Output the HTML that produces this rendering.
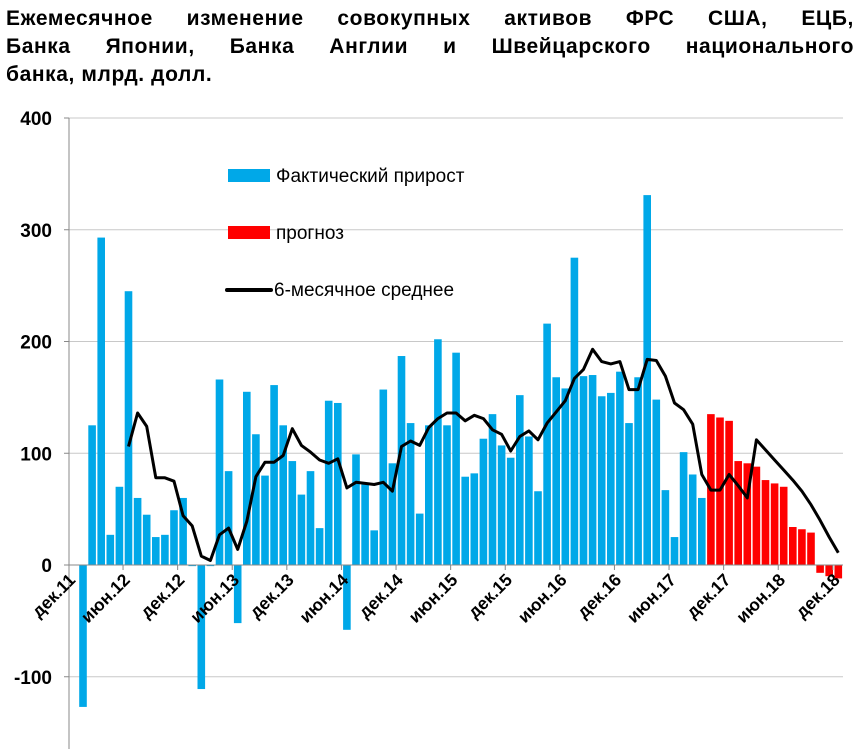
<!DOCTYPE html>
<html><head><meta charset="utf-8">
<style>
html,body{margin:0;padding:0;background:#fff;}
body{width:865px;height:749px;overflow:hidden;position:relative;font-family:"Liberation Sans","DejaVu Sans",sans-serif;}
.t{position:absolute;left:6px;width:848px;font-weight:bold;font-size:21px;letter-spacing:0.6px;color:#000;text-align:justify;text-align-last:justify;white-space:nowrap;line-height:28px;}
</style></head><body>
<div class="t" style="top:5px;">Ежемесячное изменение совокупных активов ФРС США, ЕЦБ,</div>
<div class="t" style="top:33px;">Банка Японии, Банка Англии и Швейцарского национального</div>
<div class="t" style="top:61px;text-align-last:left;width:auto;">банка, млрд. долл.</div>
<svg id="chart" width="865" height="749" style="position:absolute;left:0;top:0;" xmlns="http://www.w3.org/2000/svg"></svg>
<script>
const actual=[-127,125,293,27,70,245,60,45,25,27,49,60,-1,-111,-1,166,84,-52,155,117,80,161,125,93,63,84,33,147,145,-58,99,72,31,157,91,187,127,46,125,202,125,190,79,82,113,135,107,96,152,115,66,216,168,158,275,169,170,151,154,173,127,168,331,148,67,25,101,81,60];
const forecast=[135,132,129,93,91,88,76,73,70,34,32,29,-7,-10,-12];
const avg=[null,null,null,null,null,106,136,124,78,78,75,44,35,8,4,27,33,14,39,79,92,92,98,122,107,101,94,91,95,69,74,73,72,74,66,106,111,107,123,131,136,136,129,134,131,121,117,102,115,120,112,127,137,147,167,175,193,182,180,182,157,157,184,183,169,145,139,126,81,67,67,81,71,60,112,103,94,85,76,66,54,40,25,11];
const yTicks=[400,300,200,100,0,-100];
const xLabels=["дек.11","июн.12","дек.12","июн.13","дек.13","июн.14","дек.14","июн.15","дек.15","июн.16","дек.16","июн.17","дек.17","июн.18","дек.18"];

const NS="http://www.w3.org/2000/svg";
const svg=document.getElementById('chart');
const y0=565, pxPer=1.1175;
function yS(v){return y0-v*pxPer;}
const x0=83, step=9.1;
function xS(i){return x0+i*step;}
function mk(tag,attrs){const e=document.createElementNS(NS,tag);for(const k in attrs)e.setAttribute(k,attrs[k]);svg.appendChild(e);return e;}

yTicks.forEach(v=>{
  if(v!==0){const g=mk('line',{x1:69,x2:843,y1:yS(v),y2:yS(v),stroke:'#c8c8c8','stroke-width':1});
  
  }
  const tk=mk('line',{x1:64,x2:69,y1:yS(v),y2:yS(v),stroke:'#888'});
  
  
  const t=mk('text',{x:52,y:yS(v)+7,'text-anchor':'end','font-size':19,'font-weight':'bold','font-family':'Liberation Sans, sans-serif'});
  t.textContent=v;
  
  
});
const ax=mk('line',{x1:69,x2:69,y1:118,y2:749,stroke:'#888'});



const bw=7.6;
const all=actual.concat(forecast);
all.forEach((v,i)=>{
  const isF=i>=actual.length;
  const r=mk('rect',{x:xS(i)-bw/2,y:Math.min(yS(v),y0),width:bw,height:Math.max(Math.abs(yS(v)-y0),0.8),fill:isF?'#ff0000':'#00a8e8'});
  
  
});
const zl=mk('line',{x1:69,x2:843,y1:y0,y2:y0,stroke:'#888'});



xLabels.forEach((s,k)=>{
  const tx=xS(4.4+6*(k-1));
  if(tx>69){const tk=mk('line',{x1:tx,x2:tx,y1:y0,y2:y0+5,stroke:'#888'});
  
  }
  const t=mk('text',{x:0,y:0,'text-anchor':'end','font-size':17.5,'font-weight':'bold','font-family':'Liberation Sans, sans-serif',transform:'translate('+(tx+8)+','+(y0+16)+') rotate(-45)'});
  t.textContent=s;
  
  
});

let d='';
avg.forEach((v,i)=>{if(v===null)return;d+=(d?'L':'M')+xS(i).toFixed(1)+','+yS(v).toFixed(1);});
const ln=mk('path',{d:d,fill:'none',stroke:'#000','stroke-width':3,'stroke-linejoin':'round'});



const l1=mk('rect',{x:228,y:169,width:42,height:13,fill:'#00a8e8'});


const l1t=mk('text',{x:276,y:182,'font-size':19,'font-family':'Liberation Sans, sans-serif'});
l1t.textContent='Фактический прирост';


const l2=mk('rect',{x:228,y:226,width:42,height:13,fill:'#ff0000'});


const l2t=mk('text',{x:276,y:239,'font-size':19,'font-family':'Liberation Sans, sans-serif'});
l2t.textContent='прогноз';


const l3=mk('line',{x1:227,x2:271,y1:290,y2:290,stroke:'#000','stroke-width':4,'stroke-linecap':'round'});


const l3t=mk('text',{x:274,y:296,'font-size':19,'font-family':'Liberation Sans, sans-serif'});
l3t.textContent='6-месячное среднее';


</script>
</body></html>
